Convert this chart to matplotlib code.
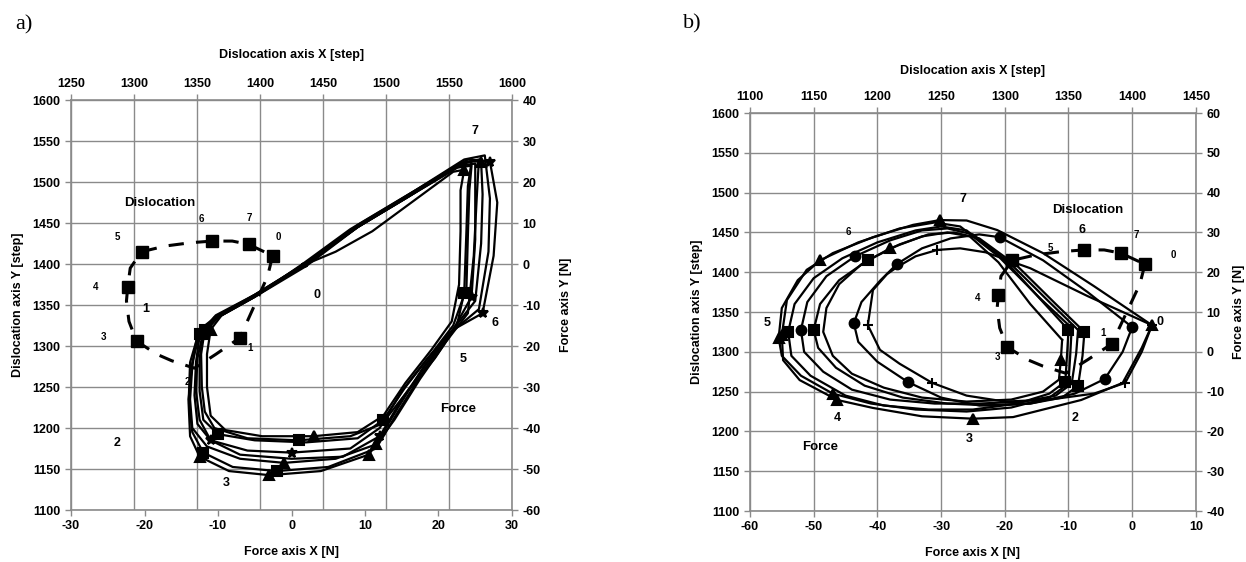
import numpy as np
import matplotlib as mpl
mpl.use('Agg')
import matplotlib.pyplot as plt

plt.rcParams['font.family'] = ['Liberation Sans', 'DejaVu Sans']
plt.rcParams['font.weight'] = 'bold'
plt.rcParams['axes.labelweight'] = 'bold'
plt.rcParams['axes.unicode_minus'] = False

# dislocation path (same in both panels), stage order 0..7..0
DISL_X = [1410, 1406, 1384, 1365, 1348, 1330, 1318, 1302, 1296, 1294, 1295, 1297, 1306, 1325, 1345, 1362, 1378, 1391, 1410]
DISL_Y = [1410, 1385, 1310, 1290, 1273, 1282, 1290, 1306, 1330, 1355, 1372, 1395, 1415, 1422, 1426, 1428, 1428, 1424, 1410]
DISL_MARKS = [0, 2, 7, 10, 12, 15, 17]

# panel a: force loops (force X [N], force Y [N])
FA1_X = [2, -5, -9.5, -11, -11.5, -11.5, -11, -9, -4, 3, 9, 12.5, 15.5, 19, 21.8, 22.8, 23, 23, 23.5, 22, 11, 6, 2]
FA1_Y = [0, -8, -12.5, -16, -22, -30, -37, -40.5, -42, -42, -41, -37, -29, -21, -14, -5, 8, 18, 23, 22.5, 8, 3, 0]
FA2_X = [1.5, -5.5, -10, -12, -12.5, -12.5, -12, -10, -5, 2, 9, 12.5, 15.5, 19, 22, 23.8, 24, 24.2, 24.5, 22.5, 15, 8, 1.5]
FA2_Y = [-0.5, -8.5, -13, -17, -23, -31, -38, -41.5, -43, -43.5, -42.5, -38, -30, -22, -15, -6, 7, 18, 24, 23.5, 15.5, 8, -0.5]
FA3_X = [2.5, -4.5, -10.5, -12.5, -13, -13.2, -12.8, -11, -6, 0, 8, 12, 15, 18.5, 22, 24.5, 25, 25, 25, 23, 15.5, 9, 2.5]
FA3_Y = [0.5, -7, -13, -17.5, -24, -32, -39, -43, -45.5, -46, -45, -40, -31, -23, -16, -8, 6, 17, 24.5, 24, 16, 9, 0.5]
FA4_X = [2, -5, -10, -12.8, -13.5, -13.8, -13.5, -11.5, -7, -1, 6, 11.5, 14.5, 18, 21.5, 25, 25.8, 26, 25.8, 23.5, 16, 9, 2]
FA4_Y = [-0.5, -8, -13, -17, -25, -33, -40, -44.5, -47.5, -48.5, -47.5, -44, -35, -25, -17, -9, 5, 17, 25, 25, 16.5, 9, -0.5]
FA5_X = [1.8, -5, -10.3, -12.5, -13.5, -14, -13.5, -12, -8, -2, 5, 11.5, 14.5, 18, 21.5, 25.5, 26.8, 27, 26.3, 23.5, 16, 9, 1.8]
FA5_Y = [0, -7.5, -12.5, -17, -24, -33, -41, -46, -49.5, -50.5, -49.5, -45, -36, -26, -17, -11, 3, 16, 26.5, 25.5, 17, 9.5, 0]
FA6_X = [2.2, -5, -10, -12, -12.8, -13, -12.5, -11, -7, 0, 7, 12, 15, 18.5, 22, 26, 27.5, 28, 27, 24, 16, 9, 2.2]
FA6_Y = [0.5, -7.5, -13, -16.5, -23, -31, -38, -43, -46.5, -47.5, -47, -42, -33, -24, -16, -12, 2, 15, 25, 25.5, 17, 9, 0.5]
FA7_X = [1.5, -5, -10, -12.5, -13.8, -14, -13.8, -12.5, -8.5, -3, 4, 10.5, 14, 17.5, 21, 24, 24.8, 25.2, 25.5, 23, 15, 8, 1.5]
FA7_Y = [0, -8, -12.5, -16, -24, -34, -42, -47, -50.5, -51.5, -50.5, -46.5, -38, -28, -19, -12, 2, 16, 25.5, 24.5, 16, 8.5, 0]
FA8_X = [2, -4.8, -9.8, -11.8, -12.3, -12.2, -11.8, -10.5, -6, 1, 8, 12.3, 15.8, 19.5, 22.5, 23.5, 23.8, 24, 24.5, 22.5, 15.5, 9, 2]
FA8_Y = [0.3, -7.5, -12.5, -16, -22, -30, -36, -40, -42.5, -43, -42, -39, -31, -23, -15, -7, 8, 19, 25, 24, 16, 9, 0.3]

# panel b: force loops
FB1_X = [3.1, 1.5, -1.5, -8, -18.7, -25, -33, -40.7, -46.3, -52.2, -54.8, -55, -54.2, -51.1, -47, -40.7, -34.4, -30.2, -26, -21.2, -14, -6, 3.1]
FB1_Y = [6.7, 1, -7.8, -12.1, -16.4, -16.8, -16.2, -14.1, -12.1, -7.1, -2.1, 4.2, 13, 20.6, 24.8, 28.8, 31.9, 33.1, 33, 30.6, 24.8, 16.5, 6.7]
FB2_X = [0, -1.5, -4.3, -9, -16, -24, -30, -35.2, -40, -43, -43.7, -42.5, -39.5, -36.9, -33, -28.5, -24, -20.8, -14, -7, 0]
FB2_Y = [6.2, 0, -6.8, -10.5, -13, -13.5, -11.5, -7.6, -2.5, 2.5, 7.2, 12.5, 18, 22.1, 26, 28.5, 29.5, 28.8, 23, 15, 6.2]
FB3_X = [-10, -10.2, -10.5, -13, -18, -25, -32, -39, -45, -50.5, -53.5, -54, -53, -50, -45.5, -40, -34, -30, -26, -20, -14, -10]
FB3_Y = [5.5, 0, -7.5, -10.5, -13, -14.5, -14.5, -13.5, -11, -6, -1, 5, 12, 18.5, 23.5, 27.5, 30.5, 31.5, 30.5, 23, 12.5, 5.5]
FB4_X = [-8.5, -8.8, -9.5, -12, -17, -24, -31, -38, -44, -48.5, -51.5, -52, -51, -48, -43.5, -38, -33, -29, -25, -19, -13, -8.5]
FB4_Y = [5.5, -0.5, -8, -11, -12.5, -13, -13, -12, -9.5, -5, 0, 5.5, 12.5, 19, 24, 28, 30.5, 31, 29.5, 22, 12.5, 5.5]
FB5_X = [-7.5, -7.8, -8.5, -11, -16, -22, -29, -36, -42, -46.5, -49.3, -50, -49, -46, -41.5, -36.5, -32, -28, -24, -18, -12, -7.5]
FB5_Y = [5, -1, -8.5, -11.5, -13, -13.5, -13, -11.5, -8.5, -4, 1, 5.5, 12, 18, 23, 27, 29.5, 30, 28.5, 21.5, 12, 5]
FB6_X = [-11, -11.2, -11.5, -14, -19, -26, -33, -39, -44, -47, -48.5, -48, -46, -42.5, -38, -33, -29, -25.5, -21, -16, -11]
FB6_Y = [3, -2, -7, -10, -12, -12.5, -11.5, -9, -5.5, -1, 5, 11, 17, 22, 26, 29, 30, 29, 22.5, 12, 3]
FB7_X = [-9.5, -9.7, -10, -13, -19, -26, -34, -41, -47, -52, -55, -55.5, -55, -52.5, -49, -43, -36.5, -31, -27, -21, -14.5, -9.5]
FB7_Y = [6, 0, -8, -11.5, -14, -15, -14.5, -13, -10.5, -6, -1, 3.5, 11, 18, 23, 27.5, 31, 32.5, 31.5, 24, 13.5, 6]
FB8_X = [3.1, 1.5, -1.1, -6, -13, -20, -26, -31.4, -36.5, -39.6, -41.5, -40.7, -38.5, -36.9, -34, -30.6, -27, -23, -16, -7, 3.1]
FB8_Y = [6.7, 0, -7.8, -10.5, -12, -12.5, -11, -7.8, -3, 0.5, 6.7, 15.5, 19.5, 21.3, 24, 25.6, 26, 25, 21, 14, 6.7]

A_LOOPS = [(FA1_X, FA1_Y, '^', [3, 9, 18]), (FA2_X, FA2_Y, 's', [3, 7, 11]),
           (FA3_X, FA3_Y, '*', [7, 9, 15]), (FA4_X, FA4_Y, '^', [9, 11, 18]),
           (FA5_X, FA5_Y, 's', [3, 7, 9]), (FA6_X, FA6_Y, '*', [11, 15, 18]),
           (FA7_X, FA7_Y, '^', [7, 9, 11]), (FA8_X, FA8_Y, 's', [3, 9, 15])]
B_LOOPS = [(FB1_X, FB1_Y, '^', [0, 5, 8, 11, 17]), (FB2_X, FB2_Y, 'o', [0, 2, 7, 10, 13, 17]),
           (FB3_X, FB3_Y, 's', [0, 2, 11]), (FB4_X, FB4_Y, 'o', [11, 14]),
           (FB5_X, FB5_Y, 's', [0, 2, 11, 14]), (FB6_X, FB6_Y, '^', [1, 14]),
           (FB7_X, FB7_Y, '^', [8, 11, 14]), (FB8_X, FB8_Y, '+', [0, 2, 7, 10, 15])]

A_BIG = [('0', 3.5, -7.6), ('7', 25.0, 32.4), ('6', 27.7, -14.4), ('5', 23.3, -23.2),
         ('2', -23.7, -43.7), ('3', -8.9, -53.4), ('1', -19.9, -11.0)]
A_SMALL = [('5', -23.7, 6.6), ('6', -12.2, 11.0), ('7', -5.8, 11.2), ('0', -1.8, 6.6),
           ('4', -26.7, -5.6), ('3', -25.6, -17.8), ('1', -5.6, -20.5), ('2', -14.2, -28.8)]
B_BIG = [('0', 4.4, 7.5), ('2', -9.0, -16.6), ('3', -25.5, -21.9), ('4', -46.3, -16.6),
         ('5', -57.3, 7.2), ('7', -26.6, 38.4), ('6', -7.9, 30.6)]
B_SMALL = [('6', -44.6, 30.1), ('5', -12.9, 26.1), ('7', 0.7, 29.3), ('0', 6.4, 24.3),
           ('4', -24.2, 13.5), ('3', -21.2, -1.3), ('1', -4.6, 4.7)]

GRID = '#8a8a8a'


def make_panel(fig, rect, dx_lim, fx_lim, fy_lim, loops, big, small, disl_pos, force_pos,
               top_pad, right_pad):
    ax_d = fig.add_axes(rect)
    ax_f = fig.add_axes(rect, label='force')
    ax_f.patch.set_visible(False)

    ax_d.set_xlim(*dx_lim)
    ax_d.set_ylim(1100, 1600)
    ax_d.set_xticks(np.arange(dx_lim[0], dx_lim[1] + 1, 50))
    ax_d.set_yticks(np.arange(1100, 1601, 50))
    ax_d.xaxis.tick_top()
    ax_d.xaxis.set_label_position('top')
    ax_d.grid(True, color=GRID, lw=1.0)
    ax_d.set_axisbelow(True)
    ax_d.set_xlabel('Dislocation axis X [step]', fontsize=9, labelpad=top_pad)
    ax_d.set_ylabel('Dislocation axis Y [step]', fontsize=9, labelpad=6)
    for s in ax_d.spines.values():
        s.set_color(GRID)
        s.set_linewidth(1.2)
    ax_d.tick_params(labelsize=9, color=GRID, length=4, width=1)

    ax_f.set_xlim(*fx_lim)
    ax_f.set_ylim(*fy_lim)
    ax_f.set_xticks(np.arange(fx_lim[0], fx_lim[1] + 1, 10))
    ax_f.set_yticks(np.arange(fy_lim[0], fy_lim[1] + 1, 10))
    ax_f.yaxis.tick_right()
    ax_f.yaxis.set_label_position('right')
    ax_f.set_xlabel('Force axis X [N]', fontsize=9, labelpad=10)
    ax_f.set_ylabel('Force axis Y [N]', fontsize=9, labelpad=right_pad)
    for s in ax_f.spines.values():
        s.set_visible(False)
    ax_f.tick_params(labelsize=9, color=GRID, length=4, width=1)

    for xs, ys, m, idx in loops:
        ax_f.plot(xs, ys, color='black', lw=1.6, marker=m, markevery=idx,
                  markersize=7, markeredgewidth=1.5)

    ax_d.plot(DISL_X, DISL_Y, color='black', lw=2.2, linestyle=(0, (5, 4)),
              marker='s', markevery=DISL_MARKS, markersize=8)

    for t, x, y in big:
        ax_f.text(x, y, t, fontsize=9, ha='center', va='center')
    for t, x, y in small:
        ax_f.text(x, y, t, fontsize=7, ha='center', va='center')
    ax_f.text(disl_pos[0], disl_pos[1], 'Dislocation', fontsize=9.5, ha='center', va='center')
    ax_f.text(force_pos[0], force_pos[1], 'Force', fontsize=9.5, ha='center', va='center')
    return ax_d, ax_f


fig = plt.figure(figsize=(12.46, 5.62), dpi=100)

make_panel(fig, [0.0570, 0.0925, 0.3539, 0.7295], (1250, 1600), (-30, 30), (-60, 40),
           A_LOOPS, A_BIG, A_SMALL, (-17.9, 14.9), (22.7, -35.4), 14, 14)
make_panel(fig, [0.6019, 0.0907, 0.3579, 0.7082], (1100, 1450), (-60, 10), (-40, 60),
           B_LOOPS, B_BIG, B_SMALL, (-6.9, 35.6), (-49.0, -23.9), 12, 6)

fig.text(0.012, 0.955, 'a)', family='Liberation Serif', weight='normal', fontsize=16, va='center')
fig.text(0.548, 0.958, 'b)', family='Liberation Serif', weight='normal', fontsize=16, va='center')

fig.savefig('out.png', dpi=100)
